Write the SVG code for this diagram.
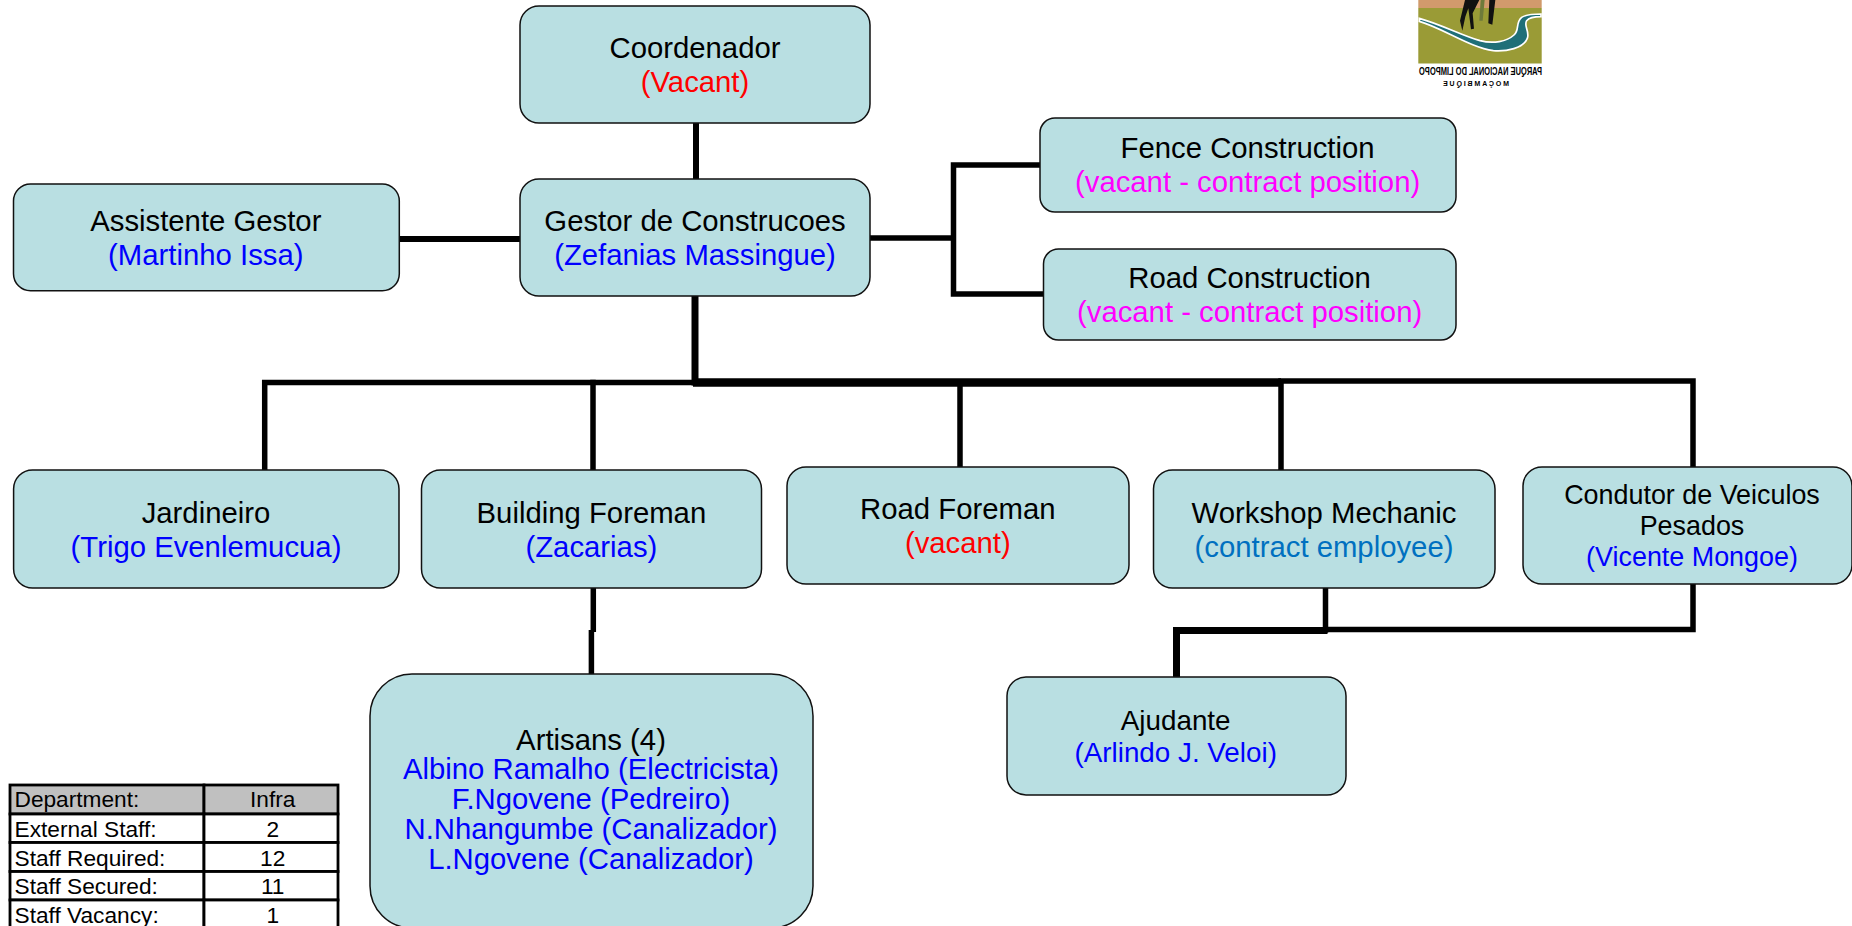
<svg xmlns="http://www.w3.org/2000/svg" width="1852" height="926" viewBox="0 0 1852 926">
<style>
text{font-family:"Liberation Sans",Arial,sans-serif;font-size:29.3px;fill:#000;text-anchor:middle}
.box{fill:#b9dfe2;stroke:#111;stroke-width:1.5}
.c{fill:none;stroke:#000;stroke-width:5.5;stroke-linecap:square;stroke-linejoin:miter}
.blue{fill:#00f}.red{fill:#f00}.mag{fill:#f0f}.cblue{fill:#0070c0}
.s{font-size:26.9px}.a{font-size:27.8px}
.t{font-size:22.7px}.tl{text-anchor:start}
.cell{fill:#fff;stroke:#000;stroke-width:2.8}.hd{fill:#c0c0c0}
.lg{font-weight:bold;text-anchor:start}
</style>
<rect width="1852" height="926" fill="#fff"/>
<g id="connectors">
<path class="c" d="M696 123V179" style="stroke-width:6;stroke-linecap:butt"/>
<path class="c" d="M399 239H520" style="stroke-width:6;stroke-linecap:butt"/>
<path class="c" d="M870 238H953.5M1040 165H953.5V294H1043"/>
<path class="c" d="M695 296V382" style="stroke-width:7"/>
<path class="c" d="M693 382.5H1281" style="stroke-width:8.5;stroke-linecap:butt"/>
<path class="c" d="M696 382.5H264.7V470"/>
<path class="c" d="M593 382.5V470M960 382V467M1281 382V470M1281 381H1693V467"/>
<path class="c" d="M593.3 588V632" style="stroke-width:5.5;stroke-linecap:butt"/>
<path class="c" d="M591.4 630V674" style="stroke-width:5.5;stroke-linecap:butt"/>
<path class="c" d="M1325.5 588V630M1693 584V629.5H1326"/>
<path class="c" d="M1327.5 630.5H1176.5V677" style="stroke-width:7;stroke-linecap:butt"/>
</g>
<g id="n-coordenador"><rect class="box" x="520" y="6" width="350" height="117" rx="19"/><text x="695" y="58.3">Coordenador</text><text class="red" x="695" y="92.3">(Vacant)</text></g>
<g id="n-gestor"><rect class="box" x="520" y="179" width="350" height="117" rx="19"/><text x="695" y="230.7">Gestor de Construcoes</text><text class="blue" x="695" y="265">(Zefanias Massingue)</text></g>
<g id="n-assistente"><rect class="box" x="13.5" y="184" width="385.8" height="106.7" rx="17"/><text x="205.8" y="230.7">Assistente Gestor</text><text class="blue" x="205.8" y="265">(Martinho Issa)</text></g>
<g id="n-fence"><rect class="box" x="1040" y="118" width="416" height="94" rx="15"/><text x="1247.6" y="158">Fence Construction</text><text class="mag" x="1247.6" y="192">(vacant - contract position)</text></g>
<g id="n-road"><rect class="box" x="1043.5" y="249" width="412.5" height="91" rx="15"/><text x="1249.6" y="288">Road Construction</text><text class="mag" x="1249.6" y="322">(vacant - contract position)</text></g>
<g id="n-jardineiro"><rect class="box" x="13.6" y="470" width="385.4" height="118" rx="19"/><text x="206" y="522.7">Jardineiro</text><text class="blue" x="206" y="556.7">(Trigo Evenlemucua)</text></g>
<g id="n-building"><rect class="box" x="421.5" y="470" width="340" height="118" rx="19"/><text x="591.4" y="522.7">Building Foreman</text><text class="blue" x="591.4" y="556.7">(Zacarias)</text></g>
<g id="n-roadforeman"><rect class="box" x="787" y="467" width="342" height="117" rx="19"/><text x="957.8" y="519">Road Foreman</text><text class="red" x="957.8" y="552.7">(vacant)</text></g>
<g id="n-workshop"><rect class="box" x="1153.5" y="470" width="341.5" height="118" rx="19"/><text x="1324" y="522.7">Workshop Mechanic</text><text class="cblue" x="1324" y="556.7">(contract employee)</text></g>
<g id="n-condutor"><rect class="box" x="1523" y="467" width="329" height="117" rx="19"/><text class="s" x="1692" y="504">Condutor de Veiculos</text><text class="s" x="1692" y="534.7">Pesados</text><text class="s blue" x="1692" y="566">(Vicente Mongoe)</text></g>
<g id="n-ajudante"><rect class="box" x="1007" y="677" width="339" height="118" rx="19"/><text class="a" x="1175.7" y="730">Ajudante</text><text class="a blue" x="1175.7" y="761.7">(Arlindo J. Veloi)</text></g>
<g id="n-artisans"><rect class="box" x="370" y="674" width="443" height="254" rx="42"/><text x="591" y="750">Artisans (4)</text><text class="blue" x="591" y="779.3">Albino Ramalho (Electricista)</text><text class="blue" x="591" y="809">F.Ngovene (Pedreiro)</text><text class="blue" x="591" y="839.3">N.Nhangumbe (Canalizador)</text><text class="blue" x="591" y="868.7">L.Ngovene (Canalizador)</text></g>
<g id="staff-table">
<rect class="cell hd" x="10" y="785" width="194" height="29"/><rect class="cell hd" x="204" y="785" width="134" height="29"/>
<rect class="cell" x="10" y="814" width="194" height="28.5"/><rect class="cell" x="204" y="814" width="134" height="28.5"/>
<rect class="cell" x="10" y="842.5" width="194" height="29"/><rect class="cell" x="204" y="842.5" width="134" height="29"/>
<rect class="cell" x="10" y="871.5" width="194" height="28.5"/><rect class="cell" x="204" y="871.5" width="134" height="28.5"/>
<rect class="cell" x="10" y="900" width="194" height="30"/><rect class="cell" x="204" y="900" width="134" height="30"/>
<text class="t tl" x="14.5" y="807">Department:</text><text class="t" x="272.7" y="807">Infra</text>
<text class="t tl" x="14.5" y="836.7">External Staff:</text><text class="t" x="272.7" y="836.7">2</text>
<text class="t tl" x="14.5" y="865.7">Staff Required:</text><text class="t" x="272.7" y="865.7">12</text>
<text class="t tl" x="14.5" y="894">Staff Secured:</text><text class="t" x="272.7" y="894">11</text>
<text class="t tl" x="14.5" y="922.7">Staff Vacancy:</text><text class="t" x="272.7" y="922.7">1</text>
</g>
<g id="logo">
<rect x="1418.3" y="0" width="123.4" height="8" fill="#d19a6c"/>
<rect x="1418.3" y="8" width="123.4" height="55.5" fill="#9a9b36"/>
<g transform="translate(1410 0) scale(.3333)">
<path d="M28 55C90 72 160 108 210 122C250 132 290 125 312 105C330 88 315 70 335 52C350 42 375 42 393 42V50C375 50 358 52 350 62C340 78 360 95 352 115C340 145 290 155 250 152C180 142 100 85 28 64Z" fill="#1f6f78" stroke="#fff" stroke-width="5"/>
<path d="M165 0L150 62L157 92L166 50L175 25L183 88L192 86L188 40L208 0ZM238 0L235 70L247 74L256 0Z" fill="#111"/>
<path d="M212 0L208 62H218L224 0Z" fill="#6e7a3a"/>
</g>
<g transform="translate(1542 0) scale(-1 1)">
<text class="lg" x="0" y="75" style="font-size:10.5px" textLength="123" lengthAdjust="spacingAndGlyphs">PARQUE NACIONAL DO LIMPOPO</text>
<text class="lg" x="33" y="86" style="font-size:7px" textLength="66">MOÇAMBIQUE</text>
</g>
</g>
</svg>
